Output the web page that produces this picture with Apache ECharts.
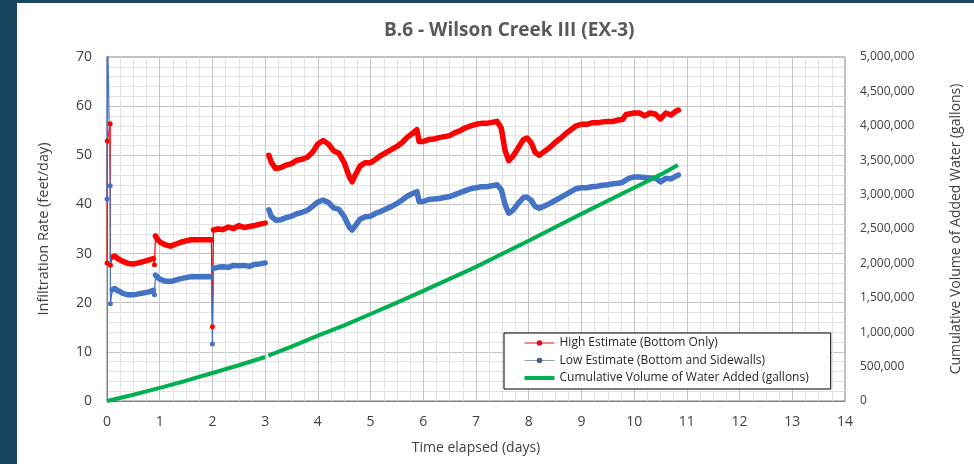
<!DOCTYPE html>
<html>
<head>
<meta charset="utf-8">
<script src="https://cdn.jsdelivr.net/npm/echarts@6/dist/echarts.min.js"></script>
<style>
  html, body { margin: 0; padding: 0; background: #18465f; }
  #panel { position: absolute; left: 17px; top: 3px; width: 957px; height: 461px; background: #fff; }
  #chart { position: absolute; left: 0; top: 0; width: 974px; height: 464px; }
</style>
</head>
<body>
<div id="panel"></div>
<div id="chart"></div>
<script>
// elapsed time (days) shared by both infiltration estimates; null marks the logging gap
const elapsedDays = [
  0, 0.005, 0.06, 0.065, 0.1, 0.15, 0.2, 0.3, 0.4, 0.5, 0.6, 0.7, 0.8, 0.88, 0.9,
  0.92, 0.95, 1.0, 1.1, 1.2, 1.3, 1.4, 1.5, 1.6, 1.7, 1.8, 1.9, 1.98, 2.0,
  2.02, 2.1, 2.2, 2.3, 2.4, 2.5, 2.6, 2.7, 2.8, 2.9, 3.0, 3.03,
  3.07, 3.12, 3.2, 3.3, 3.4, 3.5, 3.6, 3.7, 3.8, 3.9, 4.0, 4.1, 4.2, 4.3, 4.4, 4.5,
  4.6, 4.65, 4.7, 4.8, 4.9, 5.0, 5.1, 5.2, 5.3, 5.4, 5.5, 5.6, 5.7, 5.8, 5.88, 5.92,
  6.0, 6.1, 6.2, 6.3, 6.4, 6.5, 6.6, 6.7, 6.8, 6.9, 7.0, 7.1, 7.2, 7.3, 7.4, 7.48,
  7.55, 7.62, 7.7, 7.8, 7.9, 7.97, 8.05, 8.12, 8.2, 8.3, 8.4, 8.5, 8.6, 8.7, 8.8, 8.9,
  9.0, 9.1, 9.2, 9.3, 9.4, 9.5, 9.6, 9.7, 9.78, 9.85, 9.9, 10.0, 10.1, 10.2, 10.3,
  10.4, 10.5, 10.6, 10.7, 10.8, 10.84
];

const highEstimate = [
  28.1, 52.9, 56.4, 27.6, 29.3, 29.5, 29.0, 28.4, 28.0, 27.9, 28.1, 28.4, 28.7, 29.0, 27.7,
  33.6, 33.0, 32.4, 31.8, 31.5, 31.9, 32.3, 32.6, 32.8, 32.8, 32.8, 32.8, 32.8, 15.1,
  34.8, 35.0, 34.9, 35.4, 35.1, 35.7, 35.3, 35.5, 35.7, 36.0, 36.2, null,
  50.0, 48.5, 47.3, 47.5, 48.0, 48.3, 49.0, 49.2, 49.6, 50.6, 52.3, 53.0, 52.3, 50.9, 50.4, 48.5,
  45.5, 44.6, 45.8, 47.8, 48.5, 48.5, 49.2, 50.0, 50.6, 51.2, 51.8, 52.6, 53.7, 54.5, 55.2, 52.8,
  52.8, 53.2, 53.3, 53.6, 53.8, 54.0, 54.6, 55.0, 55.6, 56.0, 56.3, 56.5, 56.5, 56.7, 56.9, 55.5,
  51.0, 48.9, 49.8, 51.5, 53.2, 53.5, 52.5, 50.6, 50.0, 50.8, 51.6, 52.6, 53.4, 54.4, 55.2, 56.0,
  56.3, 56.3, 56.6, 56.6, 56.8, 56.9, 56.9, 57.2, 57.3, 58.3, 58.4, 58.6, 58.6, 58.0, 58.6,
  58.4, 57.4, 58.6, 58.2, 59.0, 59.2
];

const lowEstimate = [
  41.1, 80, 43.8, 19.8, 22.6, 22.9, 22.5, 21.9, 21.6, 21.6, 21.8, 22.0, 22.2, 22.5, 21.6,
  25.6, 25.2, 24.8, 24.4, 24.3, 24.6, 24.9, 25.1, 25.3, 25.3, 25.3, 25.3, 25.3, 11.6,
  27.0, 27.2, 27.3, 27.2, 27.6, 27.5, 27.6, 27.4, 27.8, 27.9, 28.1, null,
  38.9, 37.5, 36.8, 36.9, 37.3, 37.6, 38.1, 38.4, 38.8, 39.6, 40.5, 40.9, 40.4, 39.3, 39.0, 37.5,
  35.3, 34.8, 35.5, 37.0, 37.5, 37.6, 38.2, 38.6, 39.1, 39.6, 40.2, 40.9, 41.7, 42.2, 42.6, 40.6,
  40.6, 41.0, 41.1, 41.2, 41.4, 41.6, 42.0, 42.4, 42.8, 43.2, 43.4, 43.6, 43.6, 43.8, 44.0, 43.0,
  40.0, 38.2, 38.8, 40.2, 41.4, 41.5, 40.8, 39.6, 39.2, 39.7, 40.2, 40.8, 41.4, 42.0, 42.6, 43.2,
  43.4, 43.4, 43.6, 43.7, 43.9, 44.0, 44.2, 44.3, 44.5, 45.0, 45.3, 45.6, 45.6, 45.5, 45.4,
  45.4, 44.6, 45.3, 45.2, 45.8, 46.0
];

// readings that stand alone as isolated markers (start-up spike, refills at ~0.9 and 2 days)
const isolatedReadings = [0, 1, 2, 3, 14, 28];

const volumeDays = [
  0, 0.5, 1, 1.5, 2, 2.5, 3.0, 3.03, 3.06, 3.5, 4, 4.5, 5, 5.5, 6, 6.5,
  7, 7.5, 8, 8.5, 9, 9.5, 10, 10.5, 10.83
];
const cumulativeVolume = [
  0, 90000, 190000, 295000, 407000, 520000, 640000, null, 660000, 790000, 950000, 1100000,
  1265000, 1430000, 1600000, 1775000, 1950000, 2140000, 2330000, 2525000, 2720000,
  2910000, 3100000, 3290000, 3430000
];

const xTicks = [0, 14, 1];          // min, max, interval (days)
const leftTicks = [0, 70, 10];      // feet/day
const rightTicks = [0, 5000000, 500000];  // gallons

const fontFamily = '"Open Sans", "Noto Sans", sans-serif';
const textColor = '#404040';

function pairs(xs, ys) {
  return xs.map((x, i) => [x, ys[i] === null ? '-' : ys[i]]);
}

// dense logger readings: drawn as a thick band, isolated readings only as thin line + dot
function band(xs, ys) {
  return xs.map((x, i) => [x, ys[i] === null || isolatedReadings.includes(i) ? '-' : ys[i]]);
}

function estimateSeries(name, days, values, color) {
  return [
    {
      name,
      type: 'line',
      data: pairs(days, values),
      symbol: 'circle',
      symbolSize: (v, p) => isolatedReadings.includes(p.dataIndex) ? 5 : 0,
      showAllSymbol: true,
      connectNulls: false,
      lineStyle: { width: 1.2, color },
      itemStyle: { color },
      emphasis: { disabled: true }
    },
    {
      name,
      type: 'line',
      data: band(days, values),
      symbol: 'none',
      connectNulls: false,
      lineStyle: { width: 5.5, color, join: 'round', cap: 'round' },
      itemStyle: { color },
      emphasis: { disabled: true }
    }
  ];
}

const chart = echarts.init(document.getElementById('chart'));

chart.setOption({
  animation: false,
  backgroundColor: 'transparent',
  textStyle: { fontFamily },
  title: {
    text: 'B.6 - Wilson Creek III (EX-3)',
    left: 379,
    top: 16,
    textStyle: { fontSize: 19, fontWeight: 'bold', color: '#595959', fontFamily }
  },
  grid: {
    left: 107, right: 129, top: 57, bottom: 63,
    show: true, borderColor: '#808080', borderWidth: 1
  },
  legend: {
    orient: 'vertical',
    left: 504,
    top: 333,
    padding: [4, 22, 5, 20],
    itemWidth: 30,
    itemHeight: 7,
    itemGap: 5.5,
    backgroundColor: '#fff',
    borderColor: '#000',
    borderWidth: 1,
    textStyle: { fontSize: 12, lineHeight: 12, color: '#262626', fontFamily },
    data: [
      { name: 'High Estimate (Bottom Only)', lineStyle: { width: 1, color: '#e0101a' }, itemStyle: { color: '#e0101a' } },
      { name: 'Low Estimate (Bottom and Sidewalls)', lineStyle: { width: 1, color: '#8a9bb2' }, itemStyle: { color: '#4b5e7a' } },
      { name: 'Cumulative Volume of Water Added (gallons)', icon: 'path://M0,0 L30,0 L30,4 L0,4 Z', itemStyle: { color: '#00b050' } }
    ]
  },
  xAxis: {
    type: 'value',
    min: xTicks[0], max: xTicks[1], interval: xTicks[2],
    name: 'Time elapsed (days)',
    nameLocation: 'middle',
    nameGap: 40,
    nameTextStyle: { fontSize: 14, color: textColor },
    axisLine: { show: true, lineStyle: { color: '#808080' } },
    axisTick: { show: false },
    axisLabel: { fontSize: 14, color: textColor, margin: 14 },
    splitLine: { show: true, lineStyle: { color: '#c4c4c4' } },
    minorTick: { show: true, splitNumber: 4, length: 0 },
    minorSplitLine: { show: true, lineStyle: { color: '#e2e2e2' } }
  },
  yAxis: [
    {
      type: 'value',
      min: leftTicks[0], max: leftTicks[1], interval: leftTicks[2],
      name: 'Infiltration Rate (feet/day)',
      nameLocation: 'middle',
      nameGap: 56,
      nameTextStyle: { fontSize: 14.5, color: textColor },
      axisLine: { show: true, lineStyle: { color: '#808080' } },
      axisTick: { show: false },
      axisLabel: { fontSize: 14, color: textColor, margin: 15 },
      splitLine: { show: true, lineStyle: { color: '#c4c4c4' } },
      minorTick: { show: true, splitNumber: 5, length: 0 },
      minorSplitLine: { show: true, lineStyle: { color: '#e2e2e2' } }
    },
    {
      type: 'value',
      position: 'right',
      min: rightTicks[0], max: rightTicks[1], interval: rightTicks[2],
      name: 'Cumulative Volume of Added Water (gallons)',
      nameLocation: 'middle',
      nameGap: 104,
      nameTextStyle: { fontSize: 14, color: textColor },
      axisLine: { show: false },
      axisTick: { show: false },
      axisLabel: {
        fontSize: 12, color: textColor, margin: 15,
        formatter: v => v.toLocaleString('en-US')
      },
      splitLine: { show: false }
    }
  ],
  series: [
    ...estimateSeries('High Estimate (Bottom Only)', elapsedDays, highEstimate, '#ff0000'),
    ...estimateSeries('Low Estimate (Bottom and Sidewalls)', elapsedDays, lowEstimate, '#4472c4'),
    {
      name: 'Cumulative Volume of Water Added (gallons)',
      type: 'line',
      yAxisIndex: 1,
      data: pairs(volumeDays, cumulativeVolume),
      symbol: 'none',
      connectNulls: false,
      lineStyle: { width: 4, color: '#00b050' },
      itemStyle: { color: '#00b050' },
      emphasis: { disabled: true }
    }
  ]
});
</script>
</body>
</html>
